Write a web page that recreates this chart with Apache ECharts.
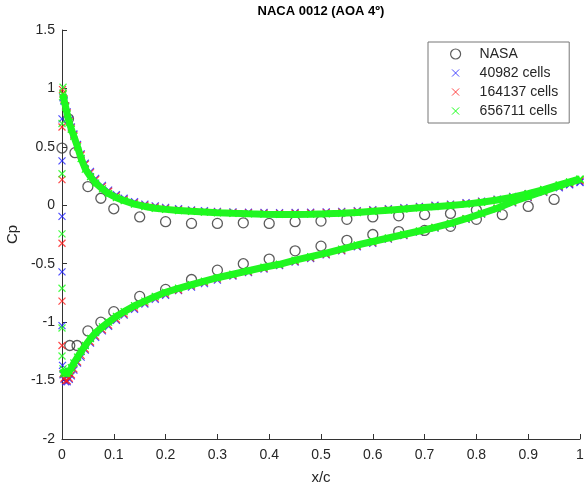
<!DOCTYPE html>
<html><head><meta charset="utf-8">
<script src="https://cdn.jsdelivr.net/npm/echarts@6/dist/echarts.min.js"></script>
<style>html,body{margin:0;padding:0;background:#fff}#c{width:584px;height:490px}</style>
</head><body><div id="c"></div>
<script>
// ---- NASA experimental data (open circles) ----
const NASA_LOW_X  = [0, 0.0125, 0.025, 0.05, 0.075, 0.1, 0.15, 0.2, 0.25, 0.3, 0.35, 0.4, 0.45, 0.5, 0.55, 0.6, 0.65, 0.7, 0.75, 0.8];
const NASA_LOW_CP = [0.49, 0.74, 0.45, 0.16, 0.06, -0.03, -0.10, -0.14, -0.155, -0.155, -0.15, -0.155, -0.14, -0.135, -0.12, -0.10, -0.09, -0.08, -0.07, -0.04];
const NASA_UP_X   = [0.015, 0.029, 0.05, 0.075, 0.1, 0.15, 0.2, 0.25, 0.3, 0.35, 0.4, 0.45, 0.5, 0.55, 0.6, 0.65, 0.7, 0.75, 0.8, 0.85, 0.9, 0.95];
const NASA_UP_CP  = [-1.2, -1.2, -1.075, -1.0, -0.91, -0.78, -0.72, -0.635, -0.555, -0.50, -0.46, -0.39, -0.35, -0.30, -0.25, -0.225, -0.215, -0.18, -0.12, -0.08, -0.01, 0.05];

// ---- CFD surface stations (x/c) ----
const CFD_X = [0.002, 0.004, 0.007, 0.01, 0.014, 0.018, 0.023, 0.03, 0.037, 0.045, 0.055, 0.065, 0.078, 0.09, 0.105, 0.12, 0.14, 0.16, 0.18, 0.2, 0.225, 0.25, 0.275, 0.3, 0.33, 0.36, 0.39, 0.42, 0.45, 0.48, 0.51, 0.54, 0.57, 0.6, 0.63, 0.66, 0.69, 0.72, 0.75, 0.78, 0.81, 0.84, 0.87, 0.9, 0.93, 0.96, 0.98, 1.0];

// 40982 cells
const BLUE_LOW_CP = [0.92, 0.89, 0.85, 0.80, 0.73, 0.67, 0.61, 0.52, 0.44, 0.36, 0.29, 0.23, 0.17, 0.13, 0.09, 0.06, 0.03, 0.01, -0.005, -0.018, -0.03, -0.04, -0.047, -0.052, -0.057, -0.06, -0.062, -0.063, -0.062, -0.06, -0.057, -0.052, -0.046, -0.038, -0.03, -0.02, -0.01, 0.0, 0.01, 0.022, 0.036, 0.053, 0.075, 0.1, 0.13, 0.16, 0.18, 0.2];
const BLUE_UP_CP  = [-1.45, -1.49, -1.51, -1.51, -1.49, -1.46, -1.41, -1.35, -1.30, -1.24, -1.18, -1.13, -1.075, -1.035, -0.985, -0.94, -0.89, -0.845, -0.805, -0.77, -0.73, -0.70, -0.67, -0.64, -0.605, -0.575, -0.545, -0.515, -0.485, -0.455, -0.425, -0.39, -0.355, -0.325, -0.29, -0.26, -0.23, -0.195, -0.16, -0.12, -0.075, -0.03, 0.02, 0.065, 0.11, 0.15, 0.175, 0.195];
const BLUE_LE_X   = [0.004, 0, 0, 0, 0, 0, 0.001];
const BLUE_LE_CP  = [0.9, 0.74, 0.38, -0.095, -0.57, -1.03, -1.37];

// 164137 cells
const RED_LOW_CP = [0.96, 0.91, 0.85, 0.79, 0.72, 0.66, 0.60, 0.51, 0.43, 0.35, 0.28, 0.22, 0.16, 0.12, 0.08, 0.05, 0.02, 0.0, -0.015, -0.027, -0.038, -0.047, -0.054, -0.059, -0.063, -0.066, -0.068, -0.069, -0.068, -0.066, -0.063, -0.058, -0.052, -0.045, -0.036, -0.027, -0.017, -0.007, 0.004, 0.016, 0.03, 0.048, 0.07, 0.097, 0.13, 0.168, 0.193, 0.218];
const RED_UP_CP  = [-1.44, -1.48, -1.50, -1.50, -1.48, -1.45, -1.40, -1.34, -1.285, -1.23, -1.17, -1.12, -1.065, -1.025, -0.975, -0.93, -0.88, -0.835, -0.795, -0.76, -0.725, -0.69, -0.66, -0.63, -0.60, -0.57, -0.54, -0.51, -0.48, -0.45, -0.42, -0.385, -0.35, -0.32, -0.285, -0.255, -0.225, -0.19, -0.155, -0.115, -0.07, -0.025, 0.025, 0.07, 0.115, 0.16, 0.185, 0.21];
const RED_LE_X   = [0.001, 0, 0, 0, 0, 0];
const RED_LE_CP  = [0.99, 0.67, 0.22, -0.325, -0.82, -1.2];

// 656711 cells
const GREEN_LOW_CP = [0.95, 0.90, 0.84, 0.78, 0.71, 0.65, 0.59, 0.50, 0.40, 0.31, 0.245, 0.19, 0.14, 0.10, 0.065, 0.04, 0.01, -0.01, -0.025, -0.035, -0.045, -0.052, -0.058, -0.064, -0.069, -0.073, -0.076, -0.078, -0.078, -0.076, -0.073, -0.068, -0.062, -0.052, -0.042, -0.032, -0.021, -0.012, -0.002, 0.01, 0.026, 0.045, 0.07, 0.1, 0.135, 0.175, 0.2, 0.225];
const GREEN_UP_CP  = [-1.40, -1.43, -1.44, -1.44, -1.42, -1.39, -1.35, -1.30, -1.25, -1.20, -1.14, -1.09, -1.04, -1.0, -0.95, -0.91, -0.86, -0.82, -0.78, -0.745, -0.71, -0.68, -0.65, -0.62, -0.59, -0.56, -0.53, -0.505, -0.47, -0.44, -0.41, -0.375, -0.34, -0.31, -0.28, -0.25, -0.22, -0.19, -0.155, -0.115, -0.07, -0.025, 0.03, 0.075, 0.12, 0.165, 0.195, 0.22];
const GREEN_LE_X   = [0.002, 0.001, 0, 0, 0, 0, 0, 0, 0.003];
const GREEN_LE_CP  = [1.01, 0.93, 0.70, 0.27, -0.245, -0.71, -1.05, -1.29, -1.44];

const X_TICKS = [0, 0.1, 0.2, 0.3, 0.4, 0.5, 0.6, 0.7, 0.8, 0.9, 1];
const Y_TICKS = [-2, -1.5, -1, -0.5, 0, 0.5, 1, 1.5];

const zip = (xs, ys) => xs.map((x, i) => [x, ys[i]]);
const CROSS = 'path://M0 0L10 10M10 0L0 10';
const LEG_CROSS = 'path://M0 0L10 10M10 0L0 10M-2 -2L-2 -2M12 12L12 12';
const FONT = 'Liberation Sans, Arial, Helvetica, sans-serif';
const TXT = '#262626';
const COLORS = {blue: '#1f1fff', red: '#ff1a1a', green: '#19ff19'};

function crossScatter(name, color, data, z) {
  return {name, type: 'scatter', data, symbol: CROSS, symbolSize: 7, clip: false, z,
    itemStyle: {color: 'rgba(0,0,0,0)', borderColor: color, borderWidth: 1.2}};
}

const series = [
  {name: 'NASA', type: 'scatter', data: zip(NASA_LOW_X, NASA_LOW_CP), symbol: 'circle', symbolSize: 10, clip: false, z: 1,
    itemStyle: {color: 'rgba(0,0,0,0)', borderColor: '#333', borderWidth: 1.3}},
  {name: 'NASA', type: 'scatter', data: zip(NASA_UP_X, NASA_UP_CP), symbol: 'circle', symbolSize: 10, clip: false, z: 1,
    itemStyle: {color: 'rgba(0,0,0,0)', borderColor: '#333', borderWidth: 1.3}},
  crossScatter('40982 cells', COLORS.blue, zip(CFD_X, BLUE_LOW_CP), 2),
  crossScatter('40982 cells', COLORS.blue, zip(CFD_X, BLUE_UP_CP), 2),
  crossScatter('40982 cells', COLORS.blue, zip(BLUE_LE_X, BLUE_LE_CP), 2),
  crossScatter('164137 cells', COLORS.red, zip(CFD_X, RED_LOW_CP), 3),
  crossScatter('164137 cells', COLORS.red, zip(CFD_X, RED_UP_CP), 3),
  crossScatter('164137 cells', COLORS.red, zip(RED_LE_X, RED_LE_CP), 3),
];
[GREEN_LOW_CP, GREEN_UP_CP].forEach(cp => {
  series.push({name: '656711 cells', type: 'line', data: zip(CFD_X, cp), symbol: CROSS, symbolSize: 7,
    showSymbol: true, showAllSymbol: true, clip: false, z: 4,
    lineStyle: {color: '#22f522', width: 7},
    itemStyle: {color: 'rgba(0,0,0,0)', borderColor: COLORS.green, borderWidth: 1.2}});
});
series.push(crossScatter('656711 cells', COLORS.green, zip(GREEN_LE_X, GREEN_LE_CP), 4));

const chart = echarts.init(document.getElementById('c'), null, {renderer: 'canvas'});
chart.setOption({
  animation: false,
  backgroundColor: '#fff',
  title: {text: 'NACA 0012 (AOA 4º)', left: 321, top: 5, padding: 0, textAlign: 'center',
    textStyle: {fontFamily: FONT, fontSize: 13, fontWeight: 'bold', color: '#000'}},
  grid: {left: 62, right: 4, top: 30, bottom: 51, containLabel: false, outerBoundsMode: 'none'},
  legend: {
    orient: 'vertical', left: 428, top: 42, padding: [5, 11, 5, 22],
    itemWidth: 38, itemHeight: 10, itemGap: 5,
    backgroundColor: '#fff', borderColor: '#777', borderWidth: 1, borderRadius: 0,
    textStyle: {fontFamily: FONT, fontSize: 14, color: TXT},
    data: [
      {name: 'NASA', icon: 'circle', itemStyle: {color: 'rgba(0,0,0,0)', borderColor: '#333', borderWidth: 1.2}},
      {name: '40982 cells', icon: LEG_CROSS, itemStyle: {color: 'rgba(0,0,0,0)', borderColor: COLORS.blue, borderWidth: 1}},
      {name: '164137 cells', icon: LEG_CROSS, itemStyle: {color: 'rgba(0,0,0,0)', borderColor: COLORS.red, borderWidth: 1}},
      {name: '656711 cells', icon: LEG_CROSS, itemStyle: {color: 'rgba(0,0,0,0)', borderColor: COLORS.green, borderWidth: 1}}
    ]
  },
  xAxis: {type: 'value', min: X_TICKS[0], max: X_TICKS[X_TICKS.length - 1], interval: 0.1,
    name: 'x/c', nameLocation: 'middle', nameGap: 31,
    nameTextStyle: {fontFamily: FONT, fontSize: 15, color: TXT},
    axisLine: {show: true, onZero: false, lineStyle: {color: '#333', width: 1}},
    axisTick: {show: true, inside: true, length: 5, lineStyle: {color: '#333'}},
    axisLabel: {fontFamily: FONT, fontSize: 14, color: TXT, margin: 9, showMaxLabel: true},
    splitLine: {show: false}},
  yAxis: {type: 'value', min: Y_TICKS[0], max: Y_TICKS[Y_TICKS.length - 1], interval: 0.5,
    name: 'Cp', nameLocation: 'middle', nameGap: 39,
    nameTextStyle: {fontFamily: FONT, fontSize: 15, color: TXT},
    axisLine: {show: true, onZero: false, lineStyle: {color: '#333', width: 1}},
    axisTick: {show: true, inside: true, length: 5, lineStyle: {color: '#333'}},
    axisLabel: {fontFamily: FONT, fontSize: 14, color: TXT, margin: 7},
    splitLine: {show: false}},
  series
});
</script></body></html>
